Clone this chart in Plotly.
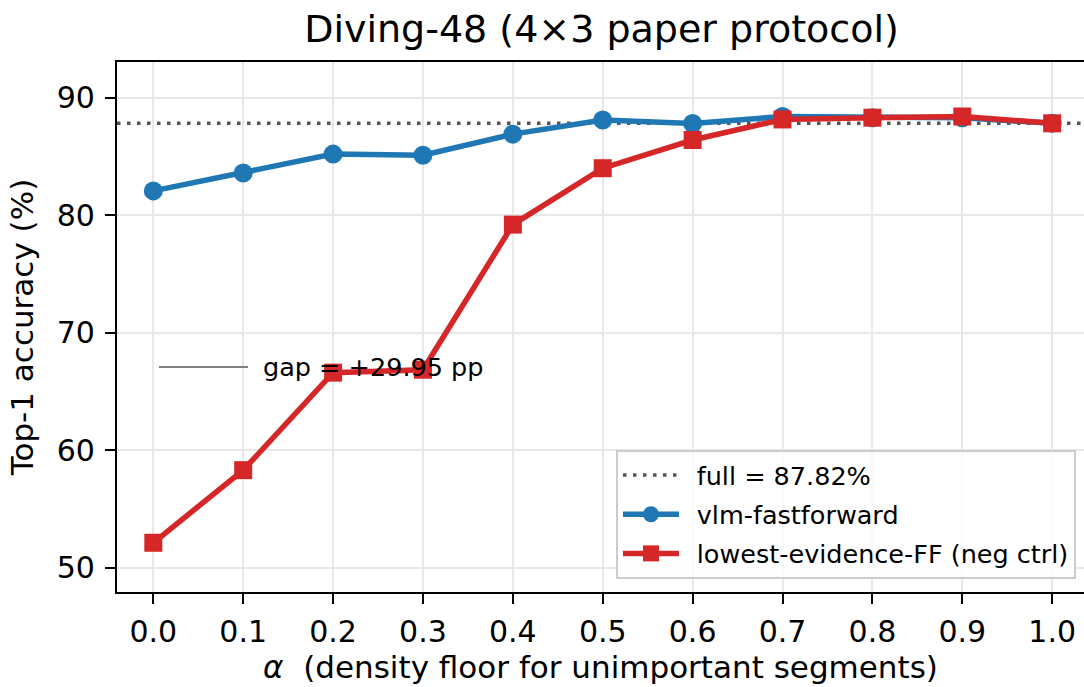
import plotly.graph_objects as go

alpha = [0.0, 0.1, 0.2, 0.3, 0.4, 0.5, 0.6, 0.7, 0.8, 0.9, 1.0]
vlm_ff = [82.07, 83.6, 85.2, 85.1, 86.9, 88.1, 87.8, 88.4, 88.3, 88.3, 87.82]
lowest_ff = [52.12, 58.3, 66.6, 66.85, 79.2, 84.0, 86.4, 88.15, 88.3, 88.4, 87.82]
full_acc = 87.82
gap_text = "gap = +29.95 pp"
xticks = [0.0, 0.1, 0.2, 0.3, 0.4, 0.5, 0.6, 0.7, 0.8, 0.9, 1.0]
yticks = [50, 60, 70, 80, 90]

FONT = "DejaVu Sans"
SP = "\u2002"  # spacing between legend handle and text

fig = go.Figure()

fig.add_shape(type="line", xref="paper", x0=0, x1=1, yref="y", y0=full_acc, y1=full_acc,
              line=dict(color="#555555", width=3.5, dash="3.5px,6.5px"),
              layer="between", showlegend=True, name=SP + f"full = {full_acc:.2f}%",
              legendrank=1, legendgroup="g1")

fig.add_trace(go.Scatter(x=alpha, y=vlm_ff, mode="lines+markers", name=SP + "vlm-fastforward",
                         line=dict(color="#1f77b4", width=5.5),
                         marker=dict(symbol="circle", size=19, color="#1f77b4"),
                         legendrank=2, legendgroup="g2"))
fig.add_trace(go.Scatter(x=alpha, y=lowest_ff, mode="lines+markers",
                         name=SP + "lowest-evidence-FF (neg ctrl)",
                         line=dict(color="#d62728", width=5.5),
                         marker=dict(symbol="square", size=18, color="#d62728"),
                         legendrank=3, legendgroup="g3"))

# "gap" pseudo-legend
fig.add_shape(type="line", xref="paper", yref="paper", x0=0.0434, x1=0.1355, y0=0.4245, y1=0.4245,
              line=dict(color="#808080", width=2), layer="above")
fig.add_annotation(xref="paper", yref="paper", x=0.149, y=0.4245, text=gap_text,
                   showarrow=False, xanchor="left", yanchor="middle",
                   font=dict(family=FONT, size=25.5, color="black"))

axis_common = dict(showline=True, linecolor="black", linewidth=2.2,
                   ticks="outside", ticklen=10, tickwidth=2.2, tickcolor="black",
                   showgrid=True, gridcolor="#e8e8e8", gridwidth=1.5, zeroline=False,
                   automargin=False,
                   tickfont=dict(family=FONT, size=30, color="black"))

fig.update_xaxes(range=[-0.0404, 1.0354], tickvals=xticks, tickformat=".1f",
                 ticklabelstandoff=2, mirror=True,
                 title=dict(text="<i>α</i>  (density floor for unimportant segments)",
                            font=dict(family=FONT, size=31, color="black"), standoff=8),
                 **axis_common)
fig.update_yaxes(range=[47.93, 93.04], tickvals=yticks, ticklabelstandoff=4, mirror=False,
                 title=dict(text="Top-1 accuracy (%)",
                            font=dict(family=FONT, size=31, color="black"), standoff=14),
                 **axis_common)

fig.update_layout(
    width=1084, height=687,
    margin=dict(l=117, r=0, t=62, b=95),
    plot_bgcolor="white", paper_bgcolor="white",
    title=dict(text="Diving-48 (4×3 paper protocol)", x=0.5549, xanchor="center",
               y=(687 - 29) / 687, yanchor="middle", yref="container",
               font=dict(family=FONT, size=38, color="black")),
    font=dict(family=FONT, color="black"),
    legend=dict(x=0.9917, y=0.0245, xanchor="right", yanchor="bottom",
                bgcolor="rgba(255,255,255,0.8)", bordercolor="#cccccc", borderwidth=2,
                font=dict(family=FONT, size=25.5, color="black"), itemwidth=56,
                tracegroupgap=3),
    showlegend=True,
)

fig.write_html("out.html", config={"displayModeBar": False},
               post_script="document.body.style.margin='0';")
